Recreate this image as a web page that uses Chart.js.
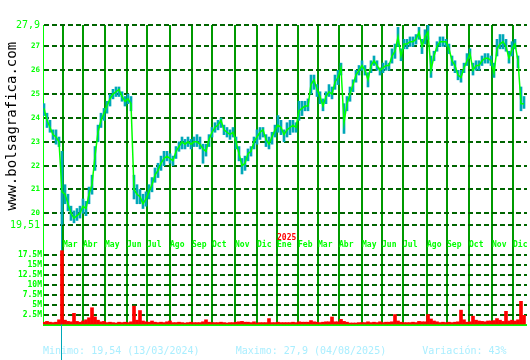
<!doctype html>
<html lang="es">
<head>
<meta charset="utf-8">
<title>bolsagrafica</title>
<script src="https://cdn.jsdelivr.net/npm/chart.js"></script>
<style>
  html, body { margin: 0; padding: 0; background: #fff; }
  #wrap { width: 530px; height: 360px; position: relative; }
</style>
</head>
<body>
<div id="wrap"><canvas id="grafico"></canvas></div>
<script>
// sesiones muestreadas cada 3 dias (feb 2024 - dic 2025)
const cierres = [
  24.4, 23.9, 23.6, 23.3, 23.2, 23.0, 20.9, 20.8, 20.4, 20.0,
  19.8, 19.9, 20.0, 20.3, 20.2, 20.8, 21.2, 22.4, 23.4, 23.9,
  24.2, 24.5, 24.8, 25.0, 25.1, 25.2, 24.9, 24.7, 24.8, 24.6,
  21.0, 20.8, 20.7, 20.4, 20.6, 20.9, 21.2, 21.6, 21.8, 22.1,
  22.3, 22.4, 22.3, 22.2, 22.6, 22.8, 23.0, 22.9, 23.0, 22.9,
  23.0, 23.0, 22.9, 22.7, 22.6, 23.1, 23.4, 23.6, 23.7, 23.9,
  23.5, 23.4, 23.3, 23.4, 23.0, 22.5, 22.0, 22.1, 22.5, 22.6,
  23.0, 23.2, 23.4, 23.5, 23.1, 22.9, 23.2, 23.5, 23.7, 23.6,
  23.3, 23.5, 23.6, 23.7, 23.6, 24.3, 24.4, 24.5, 24.5, 25.4,
  25.6, 25.2, 24.9, 24.5, 24.9, 25.1, 25.0, 25.5, 25.7, 26.1,
  23.8, 24.6, 25.0, 25.4, 25.8, 26.0, 26.2, 26.0, 25.6, 26.2,
  26.4, 26.2, 26.0, 26.1, 26.2, 26.2, 26.6, 26.8, 27.4, 26.6,
  27.1, 27.1, 27.2, 27.2, 27.3, 27.6, 27.0, 27.4, 27.6, 26.0,
  26.6, 27.0, 27.2, 27.2, 27.2, 26.9, 26.4, 26.2, 25.8, 25.7,
  26.1, 26.4, 26.7, 26.0, 26.2, 26.2, 26.4, 26.5, 26.5, 26.4,
  25.9, 26.9, 27.1, 27.2, 27.0, 26.5, 26.9, 27.1, 26.4, 24.6,
  24.6
];
const minimos = [
  24.1, 23.6, 23.4, 23.1, 22.9, 22.8, 19.54, 20.4, 20.1, 19.7,
  19.6, 19.7, 19.8, 20.0, 19.9, 20.4, 20.8, 21.8, 23.0, 23.6,
  23.9, 24.2, 24.5, 24.8, 24.9, 24.9, 24.7, 24.5, 24.6, 24.3,
  20.6, 20.4, 20.4, 20.2, 20.3, 20.6, 20.9, 21.3, 21.5, 21.8,
  22.0, 22.2, 22.1, 22.0, 22.3, 22.6, 22.7, 22.7, 22.8, 22.7,
  22.8, 22.8, 22.7, 22.1, 22.4, 22.8, 23.2, 23.4, 23.5, 23.6,
  23.3, 23.2, 23.1, 23.2, 22.7, 22.2, 21.65, 21.8, 22.2, 22.4,
  22.7, 22.9, 23.1, 23.2, 22.8, 22.7, 22.9, 23.2, 23.4, 23.3,
  23.0, 23.2, 23.3, 23.4, 23.4, 23.9, 24.1, 24.3, 24.3, 25.0,
  25.2, 24.9, 24.6, 24.3, 24.6, 24.9, 24.8, 25.2, 25.4, 25.8,
  23.35, 24.3, 24.7, 25.1, 25.5, 25.8, 26.0, 25.8, 25.3, 25.9,
  26.2, 26.0, 25.8, 25.9, 26.0, 26.0, 26.3, 26.5, 27.0, 26.4,
  26.9, 26.9, 27.0, 27.0, 27.1, 27.3, 26.7, 27.1, 27.3, 25.7,
  26.4, 26.8, 27.0, 27.0, 27.0, 26.7, 26.2, 25.9, 25.6, 25.5,
  25.9, 26.2, 26.5, 25.8, 26.0, 26.0, 26.2, 26.3, 26.3, 26.2,
  25.7, 26.6, 26.9, 26.9, 26.8, 26.3, 26.6, 26.9, 26.1, 24.3,
  24.4
];
const maximos = [
  24.6, 24.2, 23.9, 23.5, 23.5, 23.2, 22.6, 21.2, 20.8, 20.3,
  20.1, 20.2, 20.3, 20.6, 20.5, 21.1, 21.6, 22.8, 23.7, 24.2,
  24.4, 24.7, 25.0, 25.2, 25.3, 25.3, 25.1, 24.9, 25.0, 24.9,
  21.6, 21.2, 21.0, 20.8, 20.9, 21.2, 21.5, 21.9, 22.1, 22.4,
  22.6, 22.6, 22.5, 22.4, 22.8, 23.0, 23.2, 23.1, 23.2, 23.1,
  23.2, 23.3, 23.2, 22.9, 22.9, 23.3, 23.6, 23.8, 23.9, 24.0,
  23.7, 23.6, 23.5, 23.6, 23.2, 22.8, 22.3, 22.4, 22.7, 22.8,
  23.2, 23.5, 23.6, 23.6, 23.3, 23.2, 23.4, 23.7, 24.1, 23.9,
  23.5, 23.8, 23.9, 23.9, 23.8, 24.7, 24.7, 24.7, 24.8, 25.8,
  25.8, 25.4, 25.1, 24.8, 25.1, 25.4, 25.3, 25.8, 26.0, 26.3,
  24.6, 24.9, 25.3, 25.6, 26.0, 26.2, 26.4, 26.2, 25.9, 26.4,
  26.6, 26.4, 26.1, 26.3, 26.4, 26.3, 26.9, 27.1, 27.8, 26.9,
  27.3, 27.3, 27.4, 27.4, 27.5, 27.8, 27.3, 27.7, 27.9, 26.6,
  26.8, 27.2, 27.4, 27.4, 27.3, 27.1, 26.6, 26.4, 26.0, 26.0,
  26.3, 26.7, 26.9, 26.3, 26.4, 26.4, 26.6, 26.7, 26.7, 26.6,
  26.3, 27.3, 27.5, 27.5, 27.3, 26.8, 27.2, 27.3, 26.6, 25.3,
  24.9
];
// volumen en millones
const volumen = [
  0.7, 0.9, 0.7, 0.6, 0.7, 1.3, 18.5, 1.2, 0.9, 0.8,
  2.9, 0.9, 0.7, 1.0, 1.3, 1.8, 4.3, 2.0, 1.2, 0.8,
  0.9, 0.6, 0.7, 0.6, 0.5, 0.7, 0.6, 0.7, 0.6, 0.8,
  4.7, 1.2, 3.6, 1.0, 0.8, 0.7, 1.0, 0.7, 0.6, 0.7,
  0.6, 0.8, 1.0, 0.6, 0.6, 0.7, 0.6, 0.5, 0.6, 0.7,
  0.6, 0.6, 0.6, 0.8, 1.3, 0.7, 0.6, 0.6, 0.6, 0.7,
  0.6, 0.5, 0.6, 0.6, 0.7, 0.8, 0.9, 0.7, 0.7, 0.6,
  0.8, 0.5, 0.6, 0.6, 0.6, 1.6, 0.6, 0.6, 0.7, 0.6,
  0.6, 0.6, 0.6, 0.7, 0.6, 0.8, 0.7, 0.7, 0.7, 1.1,
  0.8, 0.7, 0.6, 0.7, 0.8, 0.8, 2.0, 0.8, 0.8, 1.4,
  0.9, 0.7, 0.5, 0.5, 0.5, 0.6, 0.6, 0.6, 0.8, 0.6,
  0.7, 0.6, 0.8, 0.6, 0.7, 0.7, 0.8, 2.6, 1.0, 0.7,
  0.6, 0.6, 0.6, 0.7, 0.6, 0.9, 0.8, 0.8, 2.6, 1.5,
  1.0, 0.8, 0.6, 0.7, 0.6, 0.7, 0.6, 0.7, 0.8, 3.7,
  1.3, 0.7, 0.8, 2.2, 1.2, 1.0, 0.9, 0.8, 1.0, 1.0,
  1.1, 1.6, 1.2, 0.9, 3.4, 1.0, 1.2, 1.0, 1.3, 5.9,
  2.4
];

// inicio de cada mes (numero de sesion)
const mesesPos = [20, 40, 62, 84, 104, 127, 149, 169, 192, 214, 234, 255, 275, 296, 319, 339, 360, 384, 404, 426, 449, 470];
const meses = ['Mar', 'Abr', 'May', 'Jun', 'Jul', 'Ago', 'Sep', 'Oct', 'Nov', 'Dic', 'Ene', 'Feb', 'Mar', 'Abr', 'May', 'Jun', 'Jul', 'Ago', 'Sep', 'Oct', 'Nov', 'Dic'];
const anioPos = [234];
const anios = ['2025'];

const precioTicks = [19.51, 20, 21, 22, 23, 24, 25, 26, 27, 27.9];
const precioEtiquetas = ['19,51', '20', '21', '22', '23', '24', '25', '26', '27', '27,9'];
const volTicks = [0, 2.5, 5, 7.5, 10, 12.5, 15, 17.5];
const volEtiquetas = ['', '2.5M', '5M', '7.5M', '10M', '12.5M', '15M', '17.5M'];

const sesionMinimo = 18.5;
const valorMinimo = 19.54;
const resumen = 'Minimo: 19,54 (13/03/2024)      Maximo: 27,9 (04/08/2025)      Variación: 43%';

const PASO = 3;
const puntos = (serie) => serie.map((v, i) => ({x: 1 + PASO * i, y: v}));
const mono = 'DejaVu Sans Mono';
const verde = '#00ff00';
const verdeOscuro = '#006400';
const turquesa = '#00a8b8';

new Chart(document.getElementById('grafico'), {
  type: 'line',
  data: {
    datasets: [
      {
        type: 'line', data: puntos(cierres), borderColor: verde, borderWidth: 1.5,
        pointRadius: 0, tension: 0, xAxisID: 'x', yAxisID: 'y'
      },
      {
        type: 'bar', data: cierres.map((c, i) => ({x: 1 + PASO * i, y: [minimos[i], maximos[i]]})),
        backgroundColor: turquesa, borderWidth: 0, barThickness: 2, grouped: false,
        xAxisID: 'x', yAxisID: 'y'
      },
      {
        type: 'bar', data: puntos(volumen), backgroundColor: '#ff0000', borderWidth: 0,
        barThickness: 3, grouped: false, xAxisID: 'x', yAxisID: 'y2'
      },
      {
        // marca del minimo
        type: 'line', data: [{x: sesionMinimo, y: valorMinimo}, {x: sesionMinimo, y: 12}],
        borderColor: turquesa, borderWidth: 1, pointRadius: 0, clip: false,
        xAxisID: 'x', yAxisID: 'y'
      }
    ]
  },
  options: {
    responsive: true,
    maintainAspectRatio: false,
    animation: false,
    events: [],
    layout: { padding: { top: 25, right: 3, bottom: 0, left: 0 } },
    plugins: {
      legend: { display: false },
      tooltip: { enabled: false },
      title: {
        display: true, position: 'bottom', fullSize: false, align: 'start',
        text: resumen, color: '#aaeeff',
        font: { family: mono, size: 10, weight: 'normal' },
        padding: { top: 20, bottom: 3 }
      }
    },
    scales: {
      x: {
        type: 'linear', axis: 'x', min: 0, max: 484, offset: false, bounds: 'data',
        position: { y: 18.87 },
        afterBuildTicks: (s) => { s.ticks = mesesPos.map(v => ({value: v})); },
        ticks: {
          callback: (v, i) => meses[i], color: verde, align: 'start', padding: 0,
          maxRotation: 0, minRotation: 0, autoSkip: false,
          font: { family: mono, size: 8, weight: 'bold' }
        },
        grid: { color: '#009a00', lineWidth: 2, drawTicks: false, offset: false },
        border: { display: false }
      },
      x2: {
        type: 'linear', axis: 'x', min: 0, max: 484, offset: false, bounds: 'data',
        position: { y: 19.5 },
        afterBuildTicks: (s) => { s.ticks = anioPos.map(v => ({value: v})); },
        ticks: {
          callback: (v, i) => anios[i], color: '#ff0000', align: 'start', padding: 0,
          maxRotation: 0, minRotation: 0, autoSkip: false,
          font: { family: mono, size: 8, weight: 'bold' }
        },
        grid: { display: false },
        border: { display: false }
      },
      y: {
        type: 'linear', position: 'left', stack: 'panel', stackWeight: 3, weight: 1,
        min: 18.46, max: 27.9, bounds: 'data', beginAtZero: false,
        afterBuildTicks: (s) => { s.ticks = precioTicks.map(v => ({value: v})); },
        afterFit: (s) => { s.width = 43; },
        ticks: {
          callback: (v, i) => precioEtiquetas[i], color: verde, padding: 3, autoSkip: false,
          font: (c) => (c.tick && (c.tick.value === 27.9 || c.tick.value === 19.51))
            ? { family: mono, size: 10, weight: 'normal' }
            : { family: mono, size: 7.5, weight: 'bold' }
        },
        grid: { color: verdeOscuro, lineWidth: 2, drawTicks: false },
        border: { display: true, color: verde, width: 1, dash: [5, 3] },
        title: {
          display: true, text: 'www.bolsagrafica.com  ', align: 'end', color: '#000',
          font: { family: mono, size: 14, weight: 'normal' },
          padding: { top: 4, bottom: 0 }
        }
      },
      y2: {
        type: 'linear', position: 'left', stack: 'panel', stackWeight: 1, weight: 0,
        min: 0, max: 18.67, bounds: 'data', beginAtZero: true,
        afterBuildTicks: (s) => { s.ticks = volTicks.map(v => ({value: v})); },
        afterFit: (s) => { s.width = 43; },
        ticks: {
          callback: (v, i) => volEtiquetas[i], color: verde, padding: 1, autoSkip: false,
          font: { family: mono, size: 8, weight: 'bold' }
        },
        grid: {
          color: (c) => (c.tick && c.tick.value === 0) ? verde : verdeOscuro,
          lineWidth: 2, drawTicks: false
        },
        border: {
          display: true, color: verde, width: 1,
          dash: (c) => (c.tick && c.tick.value === 0) ? [] : [5, 3]
        }
      }
    }
  }
});
</script>
</body>
</html>
